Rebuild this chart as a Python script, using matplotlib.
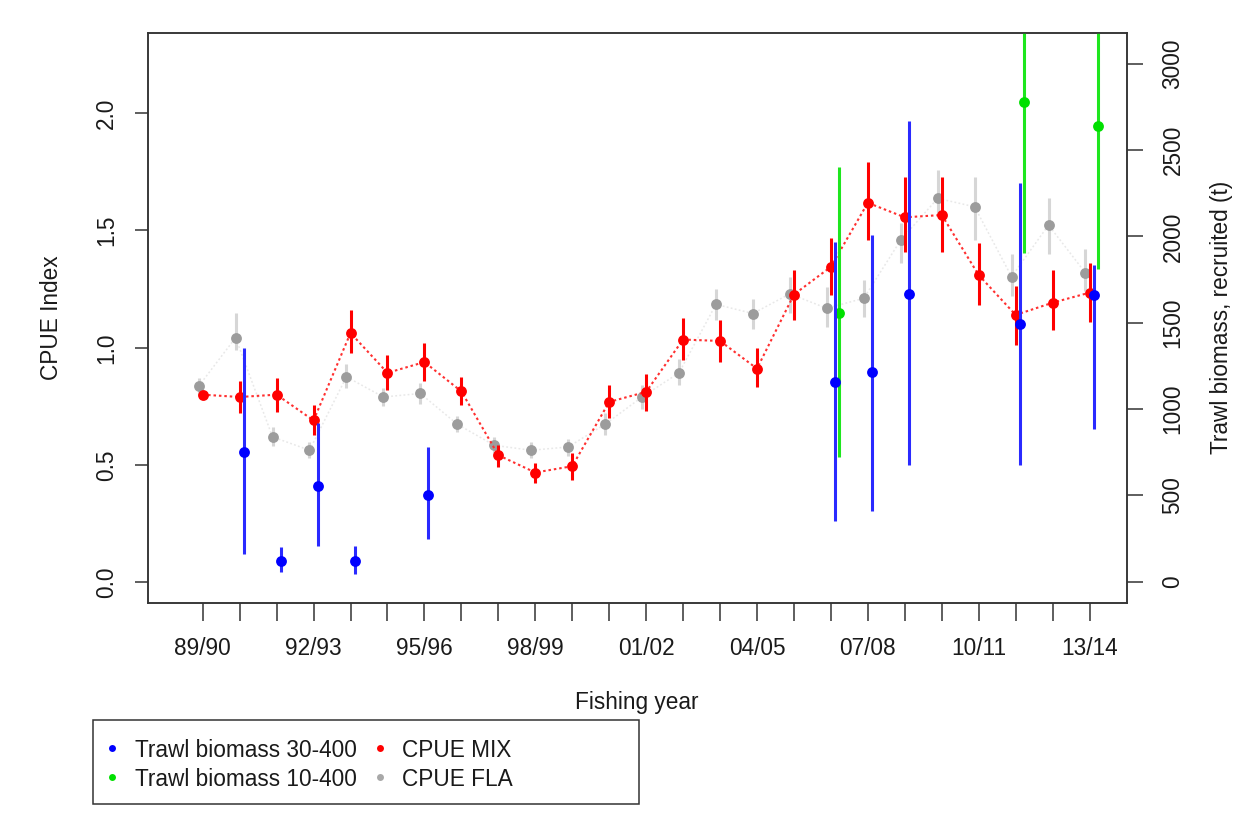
import matplotlib
matplotlib.use('Agg')
import matplotlib.pyplot as plt
from matplotlib.lines import Line2D
from matplotlib.patches import Rectangle
import numpy as np

plt.rcParams['font.family'] = ['Liberation Sans', 'DejaVu Sans']

# ---------------- data ----------------
years = ['89/90', '90/91', '91/92', '92/93', '93/94', '94/95', '95/96', '96/97',
         '97/98', '98/99', '99/00', '00/01', '01/02', '02/03', '03/04', '04/05',
         '05/06', '06/07', '07/08', '08/09', '09/10', '10/11', '11/12', '12/13', '13/14']
shown_labels = ['89/90', '92/93', '95/96', '98/99', '01/02', '04/05', '07/08', '10/11', '13/14']

# CPUE MIX (left axis)
mix = [0.80, 0.79, 0.80, 0.69, 1.063, 0.893, 0.939, 0.814, 0.542, 0.468, 0.495, 0.769, 0.812,
       1.035, 1.029, 0.911, 1.227, 1.345, 1.618, 1.556, 1.566, 1.310, 1.140, 1.192, 1.235]
mix_lo = [0.80, 0.72, 0.725, 0.627, 0.977, 0.819, 0.86, 0.755, 0.49, 0.422, 0.435, 0.70, 0.73,
          0.947, 0.94, 0.832, 1.117, 1.225, 1.459, 1.409, 1.409, 1.182, 1.01, 1.076, 1.109]
mix_hi = [0.80, 0.86, 0.87, 0.755, 1.16, 0.968, 1.02, 0.875, 0.584, 0.507, 0.55, 0.84, 0.89,
          1.126, 1.12, 0.998, 1.33, 1.466, 1.793, 1.729, 1.729, 1.445, 1.262, 1.331, 1.36]

# CPUE FLA (left axis)
fla = [0.836, 1.043, 0.62, 0.563, 0.876, 0.79, 0.805, 0.674, 0.584, 0.563, 0.577, 0.674, 0.79,
       0.893, 1.185, 1.146, 1.23, 1.168, 1.211, 1.459, 1.637, 1.601, 1.303, 1.523, 1.319]
fla_lo = [0.80, 0.99, 0.58, 0.53, 0.83, 0.75, 0.76, 0.64, 0.55, 0.53, 0.54, 0.63, 0.74,
          0.84, 1.12, 1.08, 1.15, 1.09, 1.13, 1.36, 1.56, 1.46, 1.22, 1.40, 1.24]
fla_hi = [0.87, 1.15, 0.66, 0.60, 0.93, 0.83, 0.85, 0.71, 0.62, 0.60, 0.61, 0.72, 0.84,
          0.95, 1.25, 1.21, 1.30, 1.26, 1.29, 1.53, 1.76, 1.73, 1.40, 1.64, 1.42]

# Trawl biomass 30-400 (right axis)
bio30_years = ['90/91', '91/92', '92/93', '93/94', '95/96', '06/07', '07/08', '08/09', '11/12', '13/14']
bio30 = [751, 121, 554, 121, 500, 1155, 1213, 1668, 1495, 1662]
bio30_lo = [160, 55, 205, 44, 246, 354, 409, 675, 675, 885]
bio30_hi = [1354, 200, 922, 206, 778, 1965, 2009, 2666, 2308, 1836]

# Trawl biomass 10-400 (right axis)
bio10_years = ['06/07', '11/12', '13/14']
bio10 = [1557, 2776, 2637]
bio10_lo = [720, 1903, 1814]
bio10_hi = [2402, 3600, 3500]

# ---------------- figure ----------------
W, H = 1236, 819
fig = plt.figure(figsize=(W / 100, H / 100), dpi=100)
L, R, T, B = 147.5, 1126.5, 33.0, 602.7
ax = fig.add_axes([L / W, 1 - B / H, (R - L) / W, (B - T) / H])

FS = 16.3
TXT = '#1a1a1a'
x = np.arange(len(years))
pos = {y: i for i, y in enumerate(years)}
OFF_GREY, OFF_BLUE, OFF_GREEN = -0.11, 0.11, 0.22

# CPUE FLA
xg = x + OFF_GREY
ax.plot(xg, fla, color='#e8e8e8', lw=1.1, ls=(0, (1.2, 1.5)), zorder=2)
ax.vlines(xg, fla_lo, fla_hi, color='#d6d6d6', lw=2.2, zorder=2)
ax.plot(xg, fla, 'o', color='#9c9c9c', ms=7.8, mew=0, zorder=3)

# CPUE MIX
ax.plot(x, mix, color='#ff3030', lw=1.5, ls=(0, (1.2, 1.4)), zorder=4)
ax.vlines(x, mix_lo, mix_hi, color='#ff0000', lw=2.2, zorder=4)
ax.plot(x, mix, 'o', color='#ff0000', ms=7.8, mew=0, zorder=5)

ax.set_xlim(-1.494, 25.0)
ax.set_ylim(-0.087, 2.342)

ax2 = ax.twinx()
ax2.set_ylim(-121, 3178)

xgr = np.array([pos[y] for y in bio10_years]) + OFF_GREEN
ax2.vlines(xgr, bio10_lo, bio10_hi, color='#1ee61e', lw=2.2, zorder=2)
ax2.plot(xgr, bio10, 'o', color='#00e000', ms=7.8, mew=0, lw=0, zorder=3)

xb = np.array([pos[y] for y in bio30_years]) + OFF_BLUE
ax2.vlines(xb, bio30_lo, bio30_hi, color='#2a2aff', lw=2.2, zorder=4)
ax2.plot(xb, bio30, 'o', color='#0000ff', ms=7.8, mew=0, lw=0, zorder=5)

# ticks
ax.set_xticks(x)
ax.set_xticklabels([y if y in shown_labels else '' for y in years])
ax.tick_params(axis='x', length=13, width=1.1, pad=11.5, labelsize=FS,
               colors='#333333', labelcolor=TXT)
ax.set_yticks([0, 0.5, 1.0, 1.5, 2.0])
ax.set_yticklabels(['0.0', '0.5', '1.0', '1.5', '2.0'])
ax.tick_params(axis='y', length=9.4, width=1.1, pad=12, labelsize=FS,
               labelrotation=90, colors='#333333', labelcolor=TXT)
for lab in ax.get_yticklabels():
    lab.set_verticalalignment('center')
    lab.set_horizontalalignment('right')

ax2.set_yticks([0, 500, 1000, 1500, 2000, 2500, 3000])
ax2.set_yticklabels(['0', '500', '1000', '1500', '2000', '2500', '3000'])
ax2.tick_params(axis='y', length=11.2, width=1.1, pad=14, labelsize=FS,
                labelrotation=90, colors='#333333', labelcolor=TXT)
for lab in ax2.get_yticklabels():
    lab.set_verticalalignment('center')
    lab.set_horizontalalignment('left')

for a in (ax, ax2):
    for s in a.spines.values():
        s.set_linewidth(1.1)
        s.set_color('#333333')

# axis labels
ax.set_xlabel('Fishing year', fontsize=FS, color=TXT)
ax.xaxis.set_label_coords(0.5, (B - 702) / (B - T))
ax.xaxis.label.set_verticalalignment('center')
ax.set_ylabel('CPUE Index', fontsize=FS, color=TXT)
ax.yaxis.set_label_coords((51.7 - L) / (R - L), 0.5)
ax.yaxis.label.set_verticalalignment('center')
ax2.set_ylabel('Trawl biomass, recruited (t)', fontsize=FS, color=TXT, rotation=90)
ax2.yaxis.set_label_coords((1221.7 - L) / (R - L), 0.5)
ax2.yaxis.label.set_verticalalignment('center')

# legend (drawn in figure pixels)
def fx(px):
    return px / W

def fy(py):
    return 1 - py / H

fig.add_artist(Rectangle((fx(92.7), fy(804)), fx(639) - fx(92.7), fy(720) - fy(804),
                         transform=fig.transFigure, fill=False, ec='#333333', lw=1.1))
entries = [
    (112, 748, 757, '#0000ff', 'Trawl biomass 30-400', 135),
    (112, 777, 785.5, '#00e000', 'Trawl biomass 10-400', 135),
    (380, 748, 757, '#ff0000', 'CPUE MIX', 402),
    (380, 777, 785.5, '#a8a8a8', 'CPUE FLA', 402),
]
for mx, my, base, col, lab, tx in entries:
    fig.add_artist(Line2D([fx(mx)], [fy(my)], marker='o', color=col, ms=5, mew=0,
                          lw=0, transform=fig.transFigure))
    fig.text(fx(tx), fy(base), lab, ha='left', va='baseline', fontsize=FS, color=TXT)

fig.savefig('out.png', dpi=100)
